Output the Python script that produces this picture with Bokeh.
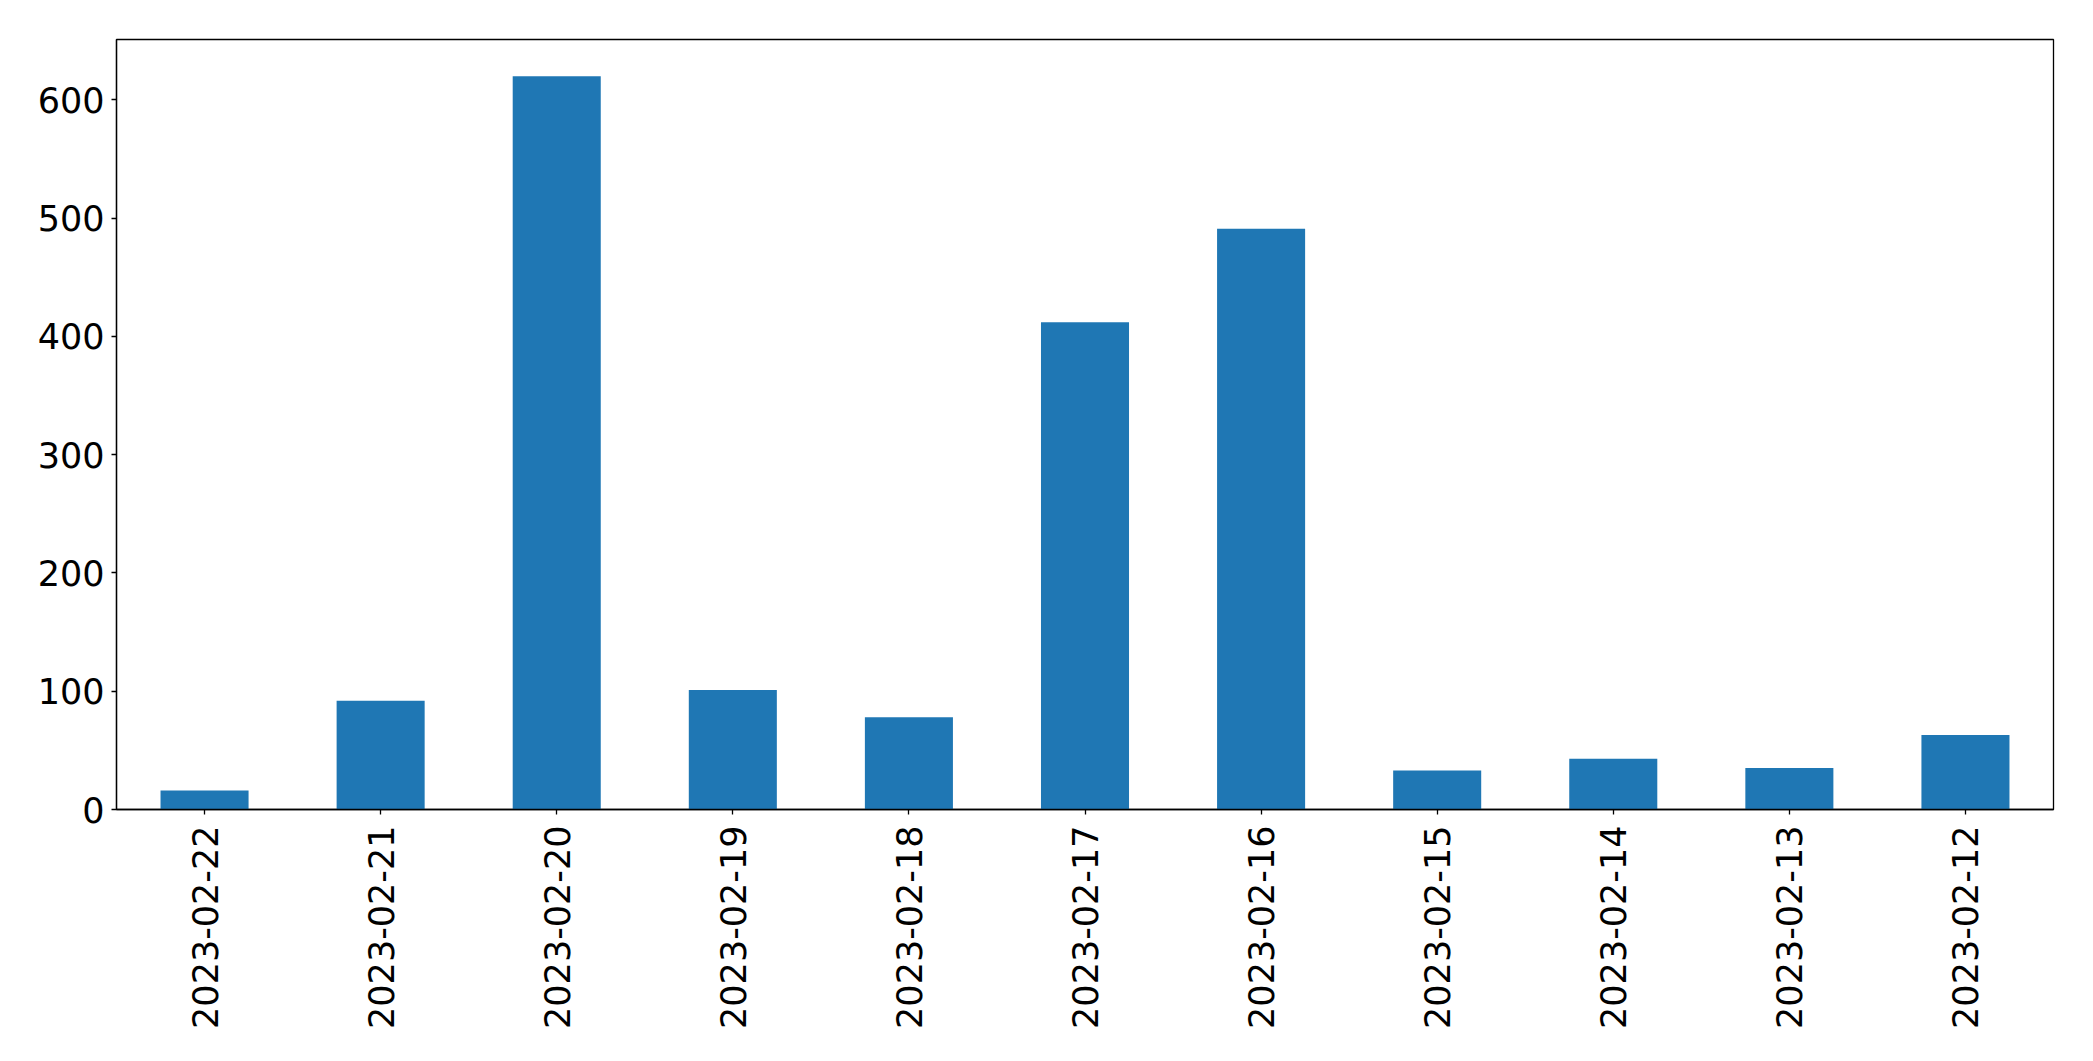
import math
from bokeh.plotting import figure
from bokeh.models import ColumnDataSource, Range1d, FixedTicker
from bokeh.embed import file_html
from bokeh.resources import INLINE

dates = ["2023-02-22", "2023-02-21", "2023-02-20", "2023-02-19", "2023-02-18",
         "2023-02-17", "2023-02-16", "2023-02-15", "2023-02-14", "2023-02-13",
         "2023-02-12"]
counts = [16, 92, 620, 101, 78, 412, 491, 33, 43, 35, 63]
y_ticks = [0, 100, 200, 300, 400, 500, 600]

source = ColumnDataSource(data=dict(date=dates, count=counts))

p = figure(x_range=dates, y_range=Range1d(0, 651),
           width=2077, height=1045,
           output_backend="svg", toolbar_location=None,
           min_border_left=116, min_border_right=24,
           min_border_top=39, min_border_bottom=236)

p.vbar(x="date", top="count", width=0.5, source=source,
       fill_color="#1f77b4", line_color=None)

p.xgrid.visible = False
p.ygrid.visible = False
p.outline_line_color = "black"
p.outline_line_width = 1.3
p.outline_line_alpha = 1

p.yaxis.ticker = FixedTicker(ticks=y_ticks)
for ax in (p.xaxis[0], p.yaxis[0]):
    ax.major_label_text_font = "DejaVu Sans"
    ax.major_label_text_font_size = "35px"
    ax.major_label_text_color = "black"
    ax.axis_line_color = "black"
    ax.axis_line_width = 1.3
    ax.major_tick_line_color = "black"
    ax.major_tick_line_width = 1.3
    ax.major_tick_out = 5
    ax.major_tick_in = 0
    ax.minor_tick_line_color = None

p.xaxis.major_label_orientation = math.pi / 2
p.xaxis.major_label_standoff = 11
p.yaxis.major_label_standoff = 7

open("out.html", "w").write(file_html(p, INLINE))
